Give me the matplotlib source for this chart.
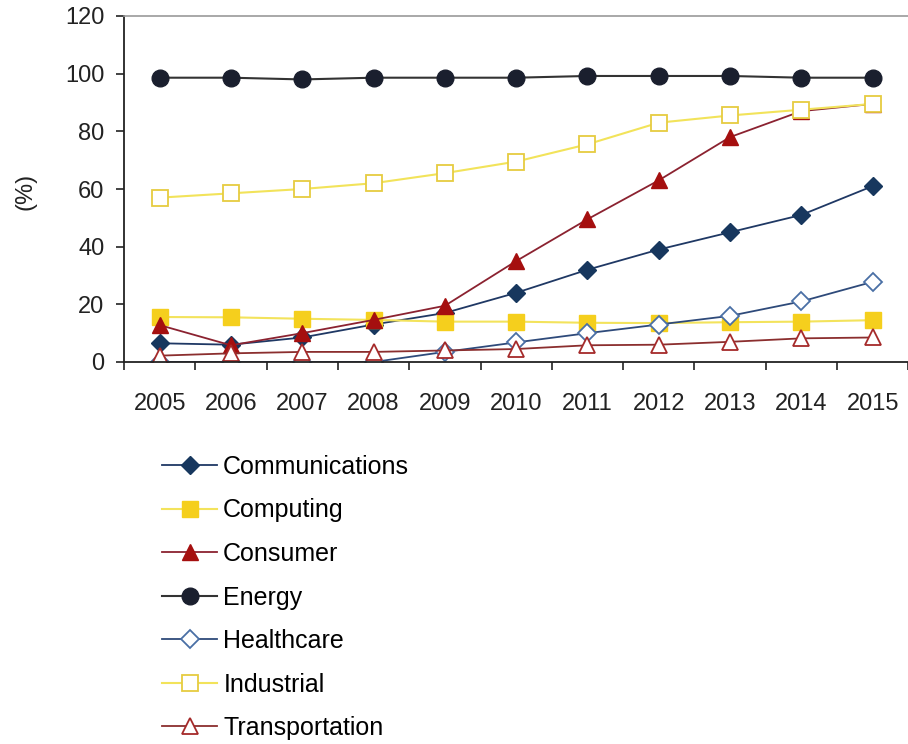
import matplotlib
matplotlib.use('Agg')
from matplotlib import pyplot as plt

years = ['2005', '2006', '2007', '2008', '2009', '2010', '2011', '2012', '2013', '2014', '2015']

communications = [6.5, 6, 8.5, 13, 17, 24, 32, 39, 45, 51, 61]
computing = [15.6, 15.5, 15, 14.6, 14, 14, 13.6, 13.5, 13.8, 14, 14.5]
consumer = [12.8, 5.8, 10, 14.6, 19.5, 35, 49.5, 63, 78, 87, 89.5]
energy = [98.6, 98.6, 98, 98.6, 98.6, 98.6, 99.2, 99.2, 99.2, 98.6, 98.6]
healthcare = [0, 0, 0, 0, 3.5, 6.8, 10, 13, 16, 21, 27.8]
industrial = [57, 58.5, 60, 62, 65.5, 69.5, 75.5, 83, 85.5, 87.5, 89.5]
transportation = [2.2, 3, 3.5, 3.5, 4, 4.5, 5.8, 6, 7, 8.2, 8.5]

plt.rcParams['font.family'] = ['Liberation Sans', 'DejaVu Sans']
fs = 17

fig = plt.figure(figsize=(9.08, 7.44), dpi=100)
ax = fig.add_axes([124/908, 1-362/744, 11*71.3/908, 346/744])

x = list(range(len(years)))

ax.plot(x, communications, color='#1F3864', lw=1.3, marker='D', ms=9,
        mfc='#17375E', mec='#17375E', label='Communications')
ax.plot(x, computing, color='#F3E35C', lw=1.5, marker='s', ms=12,
        mfc='#F5CF1D', mec='#F5CF1D', label='Computing')
ax.plot(x, consumer, color='#8B2230', lw=1.3, marker='^', ms=12,
        mfc='#A50F0F', mec='#A50F0F', label='Consumer')
ax.plot(x, energy, color='#333333', lw=1.5, marker='o', ms=12,
        mfc='#1A1F2E', mec='#1A1F2E', label='Energy')
ax.plot(x, healthcare, color='#2E4A7A', lw=1.3, marker='D', ms=9,
        mfc='white', mec='#4A6FA5', mew=1.3, label='Healthcare')
ax.plot(x, industrial, color='#F2E35A', lw=1.5, marker='s', ms=12,
        mfc='white', mec='#E6CC40', mew=1.3, label='Industrial')
ax.plot(x, transportation, color='#8B2E2E', lw=1.3, marker='^', ms=12,
        mfc='white', mec='#A52A2A', mew=1.3, label='Transportation')

ax.set_xlim(-0.5, len(years) - 0.5)
ax.set_ylim(0, 120)
ax.set_yticks(range(0, 121, 20))
ax.tick_params(axis='y', labelsize=fs, length=6, width=1.2, pad=8, colors='#222222')

# ticks between categories, labels centred under the points
ax.set_xticks([i - 0.5 for i in range(len(years) + 1)])
ax.set_xticklabels([])
ax.set_xticks(x, minor=True)
ax.set_xticklabels(years, minor=True)
ax.tick_params(axis='x', which='major', length=6, width=1.2, color='#222222')
ax.tick_params(axis='x', which='minor', length=0, labelsize=fs, pad=22, colors='#222222')

ax.spines['right'].set_visible(False)
ax.spines['top'].set_color('#999999')
ax.spines['top'].set_linewidth(1.2)
for s in ['left', 'bottom']:
    ax.spines[s].set_linewidth(1.3)
    ax.spines[s].set_color('#222222')

fig.text(26/908, 1-191/744, '(%)', rotation=90, fontsize=fs, ha='center', va='center', color='#222222')

fig.legend(loc='upper left', bbox_to_anchor=(162/908, 1-455/744), frameon=False,
           fontsize=18, handlelength=2.2, handletextpad=0.25, labelspacing=0.78,
           borderaxespad=0, borderpad=0)

fig.savefig('out.png', dpi=100)
